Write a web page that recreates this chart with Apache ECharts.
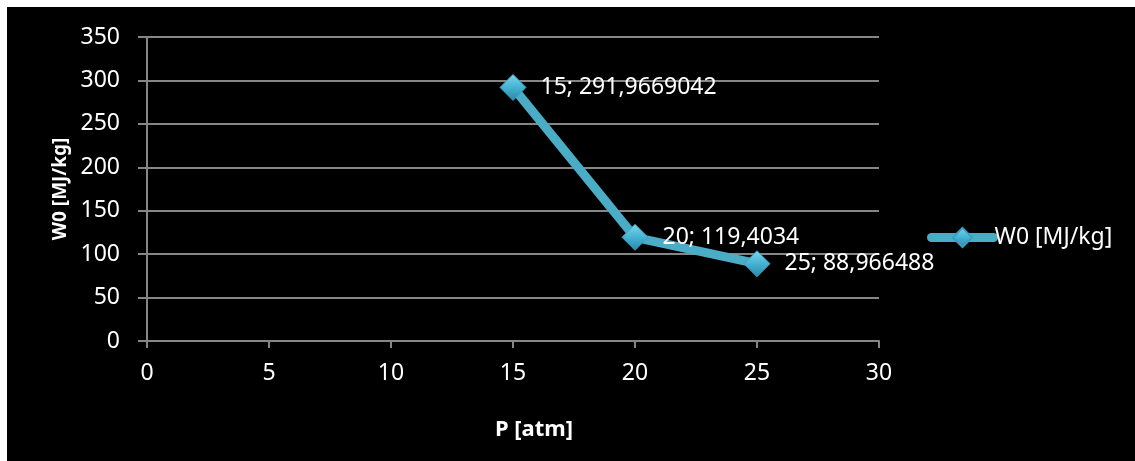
<!DOCTYPE html>
<html><head><meta charset="utf-8">
<script src="https://cdn.jsdelivr.net/npm/echarts@6/dist/echarts.min.js"></script>
<style>
html,body{margin:0;padding:0;background:#fff;width:1135px;height:461px;overflow:hidden}
#c{position:absolute;left:7px;top:7px;width:1128px;height:454px;background:#000}
</style></head><body><div id="c"></div>
<script>
const xValues = [15, 20, 25];
const yValues = [291.9669042, 119.4034, 88.966488];
const yLabelTexts = ['291,9669042', '119,4034', '88,966488'];
const seriesName = 'W0 [MJ/kg]';
const xTitle = 'P [atm]';
const yTitle = 'W0 [MJ/kg]';

const font = 'Noto Sans';
const chart = echarts.init(document.getElementById('c'));
const data = xValues.map((x, i) => [x, yValues[i]]);
const markerFill = new echarts.graphic.LinearGradient(0, 0, 0, 1, [
  {offset: 0, color: '#7fd6ee'}, {offset: 0.5, color: '#45b3d3'}, {offset: 1, color: '#2a86a6'}
]);
chart.setOption({
  backgroundColor: '#000',
  animation: false,
  grid: {left: 140, top: 30, right: 256, bottom: 120},
  legend: {
    data: [seriesName], left: 915, top: 214, itemWidth: 62, itemHeight: 24, itemGap: 4,
    lineStyle: {width: 9, cap: 'round', color: '#4bacc6'},
    textStyle: {color: '#fff', fontSize: 23, fontFamily: font, padding: [0, 0, 0, -4]}
  },
  xAxis: {
    type: 'value', min: 0, max: 30, interval: 5,
    name: xTitle, nameLocation: 'middle', nameGap: 78,
    nameTextStyle: {color: '#fff', fontSize: 22, fontWeight: 'bold', fontFamily: font, padding: [0, 0, 0, 42]},
    axisLine: {show: true, lineStyle: {color: '#868686', width: 2}},
    axisTick: {show: true, length: 7, lineStyle: {color: '#868686', width: 2}},
    axisLabel: {color: '#fff', fontSize: 23, fontFamily: font, margin: 21},
    splitLine: {show: false}
  },
  yAxis: {
    type: 'value', min: 0, max: 350, interval: 50,
    name: yTitle, nameLocation: 'middle', nameGap: 77, nameRotate: 90,
    nameTextStyle: {color: '#fff', fontSize: 19, fontWeight: 'bold', fontFamily: font},
    axisLine: {show: true, lineStyle: {color: '#868686', width: 2}},
    axisTick: {show: true, inside: false, length: 9, lineStyle: {color: '#868686', width: 2}},
    axisLabel: {color: '#fff', fontSize: 23, fontFamily: font, margin: 27},
    splitLine: {show: true, lineStyle: {color: '#868686', width: 2}}
  },
  series: [{
    name: seriesName, type: 'line', data: data,
    symbol: 'diamond', symbolSize: 26,
    lineStyle: {color: '#4bacc6', width: 9},
    itemStyle: {color: markerFill, borderColor: '#3a9fbf', borderWidth: 1},
    label: {
      show: true, position: 'right', distance: 14, color: '#fff', fontSize: 23, fontFamily: font,
      formatter: p => xValues[p.dataIndex] + '; ' + yLabelTexts[p.dataIndex]
    }
  }]
});
</script></body></html>
